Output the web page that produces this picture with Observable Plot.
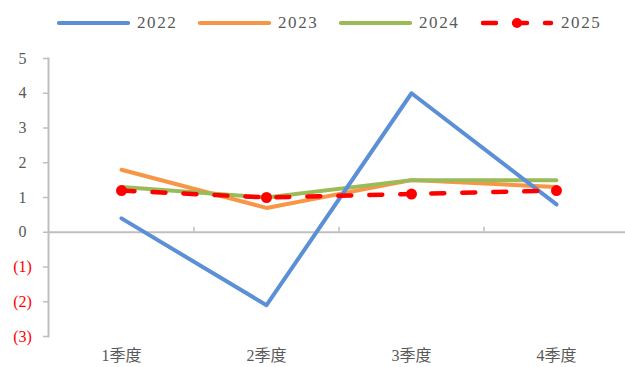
<!DOCTYPE html>
<html>
<head>
<meta charset="utf-8">
<script src="https://cdn.jsdelivr.net/npm/d3@7"></script>
<script src="https://cdn.jsdelivr.net/npm/@observablehq/plot@0.6"></script>
<style>
  html, body { margin: 0; padding: 0; background: #fff; }
  #legend {
    position: relative; height: 40px; width: 625px;
    font-family: "Liberation Serif", "Times New Roman", "DejaVu Serif", serif;
    font-size: 17px; color: #595959; letter-spacing: 1.6px;
  }
  #legend .item { position: absolute; top: 12px; display: flex; align-items: center; height: 22px; }
  #legend svg { display: block; margin-right: 7px; }
  #chart svg { display: block; }
  #chart text { font-family: "Liberation Serif", "Times New Roman", "Noto Sans CJK SC", serif; }
</style>
</head>
<body>
<div id="legend"></div>
<div id="chart"></div>
<script>
// Quarterly values per year
const quarters = ["1季度", "2季度", "3季度", "4季度"];
const years = ["2022", "2023", "2024", "2025"];
const v2022 = [0.4, -2.1, 4.0, 0.8];
const v2023 = [1.8, 0.7, 1.5, 1.3];
const v2024 = [1.3, 1.0, 1.5, 1.5];
const v2025 = [1.2, 1.0, 1.1, 1.2];
const yTicks = [5, 4, 3, 2, 1, 0, -1, -2, -3];

const colors = {"2022": "#5b8fd6", "2023": "#f79646", "2024": "#9bbb59", "2025": "#ff0000"};
const seriesValues = {"2022": v2022, "2023": v2023, "2024": v2024, "2025": v2025};

// long-form table
const rows = years.flatMap(y => quarters.map((q, i) => ({year: y, quarter: q, value: seriesValues[y][i]})));
const byYear = y => rows.filter(d => d.year === y);

const width = 625, height = 327;
const marginLeft = 48, marginRight = -3, marginTop = 18, marginBottom = 31;
const step = (width - marginLeft - marginRight) / quarters.length;
const axisGray = "#bfbfbf";
const fontFamily = "'Liberation Serif', 'Times New Roman', 'Noto Sans CJK SC', serif";

const lineStyle = (y, extra = {}) => Plot.line(byYear(y), {
  x: "quarter", y: "value", stroke: colors[y], strokeWidth: 4,
  strokeLinecap: "round", strokeLinejoin: "round", ...extra
});

const chart = Plot.plot({
  width, height, marginLeft, marginRight, marginTop, marginBottom,
  style: {fontFamily, fontSize: "16px", background: "#fff"},
  x: {type: "point", domain: quarters, padding: 0.5, align: 0.5},
  y: {domain: [-3, 5]},
  marks: [
    // category boundary ticks along the zero line
    Plot.ruleX(quarters.slice(1), {x: d => d, y1: 0, y2: 0, insetTop: -5, dx: -step / 2, stroke: axisGray, strokeWidth: 1.5}),
    Plot.ruleY([0], {stroke: axisGray, strokeWidth: 2}),
    Plot.frame({anchor: "left", stroke: axisGray, strokeWidth: 2}),
    Plot.axisY({
      ticks: yTicks, tickSize: 5, tickPadding: 0, stroke: axisGray, strokeWidth: 1.5,
      tickFormat: d => d < 0 ? `(${-d})` : `${d}`, label: null
    }),
    Plot.text(yTicks, {
      y: d => d, frameAnchor: "left", dx: -26, textAnchor: "middle",
      text: d => d < 0 ? `(${-d})` : `${d}`,
      fill: d => d < 0 ? "#ff0000" : "#595959", fontSize: 16
    }),
    Plot.axisX({tickSize: 0, tickPadding: 13, label: null, fill: "#595959", fontSize: 16}),
    lineStyle("2023"),
    lineStyle("2024"),
    lineStyle("2022"),
    Plot.line(byYear("2025"), {
      x: "quarter", y: "value", stroke: colors["2025"], strokeWidth: 4.5,
      strokeDasharray: "13,18", strokeLinecap: "round"
    }),
    Plot.dot(byYear("2025"), {x: "quarter", y: "value", r: 5.5, fill: colors["2025"]})
  ]
});

// hide the default y tick labels; the colored text mark replaces them
chart.querySelectorAll("[aria-label='y-axis tick label']").forEach(g => g.remove());
document.getElementById("chart").append(chart);

// legend
const legendPos = {"2022": 57, "2023": 198, "2024": 339, "2025": 481};
const legend = d3.select("#legend");
for (const y of years) {
  const item = legend.append("div").attr("class", "item").style("left", legendPos[y] + "px");
  const sw = item.append("svg").attr("width", 73).attr("height", 10);
  if (y === "2025") {
    sw.append("line").attr("x1", 2).attr("x2", 70).attr("y1", 5).attr("y2", 5)
      .attr("stroke", colors[y]).attr("stroke-width", 4.5)
      .attr("stroke-dasharray", "13,18").attr("stroke-linecap", "round");
    sw.append("circle").attr("cx", 36).attr("cy", 5).attr("r", 5).attr("fill", colors[y]);
  } else {
    sw.append("line").attr("x1", 2).attr("x2", 71).attr("y1", 5).attr("y2", 5)
      .attr("stroke", colors[y]).attr("stroke-width", 4.2).attr("stroke-linecap", "round");
  }
  item.append("span").text(y);
}
</script>
</body>
</html>
